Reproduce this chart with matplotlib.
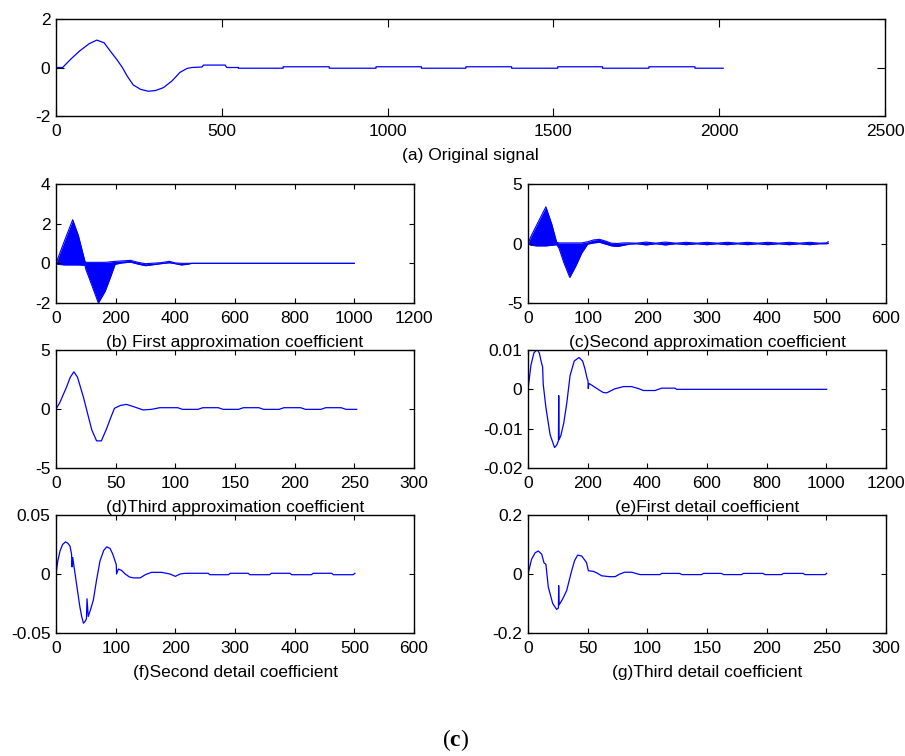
import matplotlib
matplotlib.use("Agg")
import matplotlib.pyplot as plt
from matplotlib.ticker import FormatStrFormatter, FuncFormatter

# ---------------- data ----------------
# (a) original signal
a_x = [0, 20, 45, 72, 100, 123, 145, 163, 185, 200, 215, 233, 255, 278, 300, 324, 350, 374, 395, 410,
       440, 445, 510, 515, 550, 550, 685, 685, 824, 824, 965, 965, 1102, 1102, 1236, 1236, 1374, 1374,
       1513, 1513, 1648, 1648, 1788, 1788, 1927, 1927, 2012]
a_y = [0, 0, 0.35, 0.69, 0.98, 1.13, 1.02, 0.69, 0.3, 0.0, -0.36, -0.72, -0.9, -0.98, -0.95, -0.83, -0.55, -0.2, -0.04, 0.0,
       0.02, 0.1, 0.1, 0.0, 0.0, -0.03, -0.03, 0.03, 0.03, -0.03, -0.03, 0.03, 0.03, -0.03, -0.03, 0.03, 0.03, -0.03,
       -0.03, 0.03, 0.03, -0.03, -0.03, 0.03, 0.03, -0.03, -0.03]

# (b) first approximation coefficient (dense oscillation -> envelope)
b_x = [0, 5, 30, 56, 75, 97, 100, 120, 142, 165, 185, 198, 220, 250, 275, 300, 320, 350, 380, 400, 420, 440, 455, 1000]
b_hi = [0, 0.2, 1.2, 2.2, 1.4, 0.1, 0.05, 0.05, 0.05, 0.05, 0.08, 0.1, 0.12, 0.15, 0.05, -0.02, 0.0, 0.03, 0.1, 0.02,
        0.0, 0.0, 0.0, 0.0]
b_lo = [0, -0.05, -0.08, -0.08, -0.08, -0.1, -0.3, -1.1, -2.0, -1.4, -0.6, -0.05, 0.02, 0.06, -0.04, -0.12, -0.08, -0.02,
        0.03, -0.02, -0.08, -0.05, 0.0, 0.0]

# (c) second approximation coefficient (envelope)
c_x = [0, 5, 15, 30, 40, 48, 52, 60, 70, 80, 90, 100, 110, 120, 130, 140, 150, 160, 170, 182, 198, 214, 230, 248, 265,
       283, 300, 317, 334, 351, 368, 385, 402, 420, 438, 455, 472, 488, 500, 503]
c_hi = [0, 0.6, 1.6, 3.08, 1.6, 0.1, 0.05, 0.05, 0.05, 0.05, 0.05, 0.15, 0.3, 0.35, 0.2, 0.02, 0.0, 0.05, 0.05, 0.03,
        0.12, 0.03, 0.12, 0.03, 0.1, 0.03, 0.1, 0.03, 0.1, 0.03, 0.1, 0.03, 0.1, 0.03, 0.1, 0.03, 0.1, 0.03, 0.05, 0.15]
c_lo = [0, -0.15, -0.2, -0.2, -0.15, -0.1, -0.4, -1.6, -2.85, -1.9, -0.8, -0.05, 0.05, 0.1, -0.05, -0.2, -0.25, -0.15,
        -0.05, -0.02, -0.12, -0.02, -0.12, -0.02, -0.1, -0.02, -0.1, -0.02, -0.1, -0.02, -0.1, -0.02, -0.1, -0.02, -0.1,
        -0.02, -0.1, -0.02, -0.02, 0.0]

# (d) third approximation coefficient
d_x = [0, 3, 9, 12, 15, 18, 23, 26, 30, 34, 38, 42, 46, 49, 54, 59, 65, 73, 80, 87,
       102, 106, 119, 123, 136, 140, 153, 157, 170, 174, 187, 191, 205, 209, 222, 226, 239, 243, 252]
d_y = [0, 0.5, 1.9, 2.7, 3.15, 2.7, 1.0, -0.2, -1.77, -2.7, -2.7, -1.77, -0.7, 0.06, 0.3, 0.39, 0.2, -0.08, -0.03, 0.11,
       0.11, -0.03, -0.03, 0.11, 0.11, -0.03, -0.03, 0.11, 0.11, -0.03, -0.03, 0.11, 0.11, -0.03, -0.03, 0.11, 0.11,
       -0.03, -0.03]

# (e) first detail coefficient
e_x = [0, 10, 20, 31, 38, 45, 49, 51, 60, 74, 89, 96, 102, 103, 104, 110, 120, 130, 141, 155,
       171, 183, 191, 198, 201, 202, 204, 215, 235, 252, 264, 290, 320, 347, 370, 387, 426, 448, 493, 498, 1001]
e_y = [0, 0.0062, 0.0093, 0.0101, 0.0092, 0.0068, 0.0057, 0.0013, -0.0046, -0.0115, -0.0148, -0.0142, -0.0131,
       -0.0016, -0.0128, -0.0118, -0.0085, -0.0035, 0.0035, 0.0072, 0.0081, 0.0072, 0.0052, 0.0028, 0.0022, 0.0002,
       0.0015, 0.001, 0.0, -0.0008, -0.0009, 0.0001, 0.0007, 0.0007, 0.0002, -0.0003, -0.0003, 0.0003, 0.0003, 0.0, 0.0]

# (f) second detail coefficient
f_x = [0, 3, 6.7, 11, 16, 20, 23.5, 26, 27, 28, 32, 36, 40, 43, 46, 49, 51, 52, 54, 58,
       62.6, 68, 73.7, 80, 85, 90.5, 95, 99, 101, 101.5, 104.5, 110, 116, 123, 130, 141, 150, 160, 177, 185,
       191, 200, 208, 215, 222, 255, 258, 289, 292, 322, 325, 358, 361, 392, 395, 428, 431, 462, 465, 498, 501]
f_y = [0, 0.011, 0.0194, 0.025, 0.0272, 0.026, 0.0236, 0.017, 0.006, 0.014, 0.0, -0.014, -0.0278, -0.036, -0.0417,
       -0.04, -0.038, -0.021, -0.036, -0.03, -0.022, -0.005, 0.011, 0.02, 0.023, 0.0217, 0.017, 0.011, 0.008, 0.0,
       0.0042, 0.003, 0.0, -0.0025, -0.0033, -0.0033, -0.0005, 0.0014, 0.0014, 0.0006, 0.0, -0.002, 0.0, 0.0005,
       0.0006, 0.0006, -0.0006, -0.0006, 0.0006, 0.0006, -0.0006, -0.0006, 0.0006, 0.0006, -0.0006, -0.0006, 0.0006,
       0.0006, -0.0006, -0.0006, 0.0006]

# (g) third detail coefficient
g_x = [0, 3, 6, 8.7, 11.5, 13.4, 15, 17, 20.7, 24, 25.5, 25.7, 26, 26.8, 29, 32.4, 36.6, 39, 41.6, 45,
       49, 50.6, 54.7, 58, 61.7, 68, 73, 77, 81, 87, 92, 94, 110.6, 112, 127, 129, 145.5, 147, 162, 164,
       179, 180.5, 197, 198.6, 212.6, 214, 230.7, 232, 249, 250.3]
g_y = [0, 0.05, 0.072, 0.078, 0.067, 0.038, 0.033, -0.044, -0.1, -0.12, -0.115, -0.039, -0.105, -0.1, -0.085, -0.056,
       0.011, 0.045, 0.064, 0.061, 0.039, 0.011, 0.009, 0.003, -0.006, -0.009, -0.009, 0.0, 0.006, 0.006, 0.0, -0.002,
       -0.002, 0.002, 0.002, -0.002, -0.002, 0.002, 0.002, -0.002, -0.002, 0.002, 0.002, -0.002, -0.002, 0.002, 0.002,
       -0.002, -0.002, 0.002]

captions = ["(a) Original signal", "(b) First approximation coefficient", "(c)Second approximation coefficient",
            "(d)Third approximation coefficient", "(e)First detail coefficient", "(f)Second detail coefficient",
            "(g)Third detail coefficient"]

LINE = "#0000ff"
FS = 12.5

plt.rcParams["font.family"] = ["Liberation Sans", "DejaVu Sans"]
plt.rcParams["font.size"] = FS
plt.rcParams["axes.unicode_minus"] = False
plt.rcParams["mathtext.fontset"] = "custom"
plt.rcParams["mathtext.rm"] = "Liberation Serif"
plt.rcParams["mathtext.bf"] = "Liberation Serif:bold"


def style_axes(ax, xlim, xticks, ylim, yticks, caption, ticklen=3.5):
    ax.set_xlim(xlim)
    ax.set_ylim(ylim)
    ax.set_xticks(xticks)
    ax.set_yticks(yticks)
    ax.yaxis.set_major_formatter(FuncFormatter(lambda v, p: "%g" % round(v, 6)))
    ax.xaxis.set_major_formatter(FormatStrFormatter("%g"))
    ax.tick_params(direction="in", top=True, right=True, length=ticklen, width=0.8,
                   labelsize=FS, pad=4)
    ax.tick_params(axis="x", pad=5.5)
    for s in ax.spines.values():
        s.set_linewidth(1.0)
    ax.set_xlabel(caption, fontsize=FS, labelpad=6.5)


def main():
    fig = plt.figure(figsize=(9.05, 7.56), dpi=100)
    W, H = 905.0, 756.0

    def rect(l, t, r, b):
        return [l / W, 1 - b / H, (r - l) / W, (b - t) / H]

    # (a)
    ax = fig.add_axes(rect(56, 19, 885, 116))
    ax.plot(a_x, a_y, color=LINE, lw=0.9)
    style_axes(ax, (0, 2500), range(0, 2501, 500), (-2, 2), [-2, 0, 2], captions[0], ticklen=5.5)

    # (b)
    ax = fig.add_axes(rect(56, 184, 414, 303))
    ax.fill_between(b_x, b_lo, b_hi, color=LINE, lw=0)
    ax.plot(b_x, b_hi, color=LINE, lw=0.8)
    ax.plot(b_x, b_lo, color=LINE, lw=0.8)
    style_axes(ax, (0, 1200), range(0, 1201, 200), (-2, 4), [-2, 0, 2, 4], captions[1])

    # (c)
    ax = fig.add_axes(rect(528, 184, 886, 303))
    ax.fill_between(c_x, c_lo, c_hi, color=LINE, lw=0)
    ax.plot(c_x, c_hi, color=LINE, lw=0.8)
    ax.plot(c_x, c_lo, color=LINE, lw=0.8)
    style_axes(ax, (0, 600), range(0, 601, 100), (-5, 5), [-5, 0, 5], captions[2])

    # (d)
    ax = fig.add_axes(rect(56, 350, 414, 468))
    ax.plot(d_x, d_y, color=LINE, lw=0.9)
    style_axes(ax, (0, 300), range(0, 301, 50), (-5, 5), [-5, 0, 5], captions[3])

    # (e)
    ax = fig.add_axes(rect(528, 350, 886, 468))
    ax.plot(e_x, e_y, color=LINE, lw=0.9)
    style_axes(ax, (0, 1200), range(0, 1201, 200), (-0.02, 0.01), [-0.02, -0.01, 0, 0.01], captions[4])

    # (f)
    ax = fig.add_axes(rect(56, 515, 414, 633))
    ax.plot(f_x, f_y, color=LINE, lw=0.9)
    style_axes(ax, (0, 600), range(0, 601, 100), (-0.05, 0.05), [-0.05, 0, 0.05], captions[5])

    # (g)
    ax = fig.add_axes(rect(528, 515, 886, 633))
    ax.plot(g_x, g_y, color=LINE, lw=0.9)
    style_axes(ax, (0, 300), range(0, 301, 50), (-0.2, 0.2), [-0.2, 0, 0.2], captions[6])

    fig.text(456 / W, 1 - 740 / H, r"($\mathbf{c}$)", family="Liberation Serif", fontsize=17,
             ha="center", va="center")

    fig.savefig("out.png", dpi=100)
    plt.close(fig)


if __name__ == "__main__":
    main()
